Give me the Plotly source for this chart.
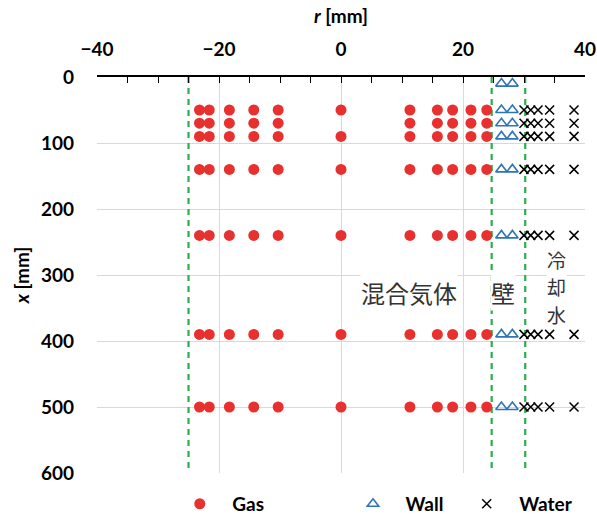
import plotly.graph_objects as go

# ---- data ----
gas_r_cols = [-23.2, -21.6, -18.3, -14.3, -10.3, 0, 11.3, 15.8, 18.3, 21.3, 23.9]
gas_x_rows = [50, 70, 90, 140, 240, 390, 500]
center_rows = [50, 90, 140, 240, 390, 500]

wall_r_cols = [26.3, 28.1]
wall_x_rows = [10, 50, 70, 90, 140, 240, 390, 500]

water_r_cols = [30.0, 31.1, 32.3, 34.2, 38.2]
water_x_rows = [50, 70, 90, 140, 240, 390, 500]

boundary_r = [-25.0, 24.7, 30.2]
x_range = [0, 600]

labels = [("混合気体", 11.1, 327, 24), ("壁", 26.6, 327, 24),
          ("冷", 35.4, 276, 19), ("却", 35.4, 318, 19), ("水", 35.4, 360, 19)]

# build point lists
gx, gy = [], []
for r in gas_r_cols:
    rows = center_rows if r == 0 else gas_x_rows
    for x in rows:
        gx.append(r); gy.append(x)
wx, wy = [], []
for r in wall_r_cols:
    for x in wall_x_rows:
        wx.append(r); wy.append(x)
hx, hy = [], []
for r in water_r_cols:
    for x in water_x_rows:
        hx.append(r); hy.append(x)

FONT = "Lato"
fig = go.Figure()

for b in boundary_r:
    fig.add_trace(go.Scatter(x=[b, b], y=x_range, mode="lines",
                             line=dict(color="#2BAE4E", width=2.2, dash="6px,5px"),
                             showlegend=False, hoverinfo="skip"))

fig.add_trace(go.Scatter(x=gx, y=gy, mode="markers", name="Gas",
                         marker=dict(symbol="circle", size=11, color="#E8312F"),
                         legend="legend"))
fig.add_trace(go.Scatter(x=wx, y=wy, mode="markers", name="Wall",
                         marker=dict(symbol="triangle-up-open", size=10,
                                     color="#2E75B6", line=dict(width=1.6, color="#2E75B6")),
                         legend="legend2"))
fig.add_trace(go.Scatter(x=hx, y=hy, mode="markers", name="Water",
                         marker=dict(symbol="x-thin-open", size=9,
                                     color="black", line=dict(width=1.5, color="black")),
                         legend="legend3"))

for txt, r, x, fs in labels:
    fig.add_annotation(x=r, y=x, text=txt, showarrow=False, xref="x", yref="y",
                       font=dict(family="Noto Sans CJK JP", size=fs, color="#333333"),
                       bgcolor="white", borderpad=0)

leg_common = dict(orientation="h", yanchor="middle", y=-0.078, xanchor="left",
                  bgcolor="rgba(0,0,0,0)", itemwidth=55,
                  font=dict(family=FONT, size=19, color="black", weight="bold"))

fig.update_layout(
    width=597, height=518,
    margin=dict(l=97, r=12, t=77, b=45, autoexpand=False),
    plot_bgcolor="white", paper_bgcolor="white",
    xaxis=dict(side="top", range=[-40, 40], dtick=20, tick0=-40,
               showgrid=True, gridcolor="#D9D9D9", gridwidth=1,
               zeroline=False, showline=True, linecolor="black", linewidth=1.5,
               ticks="inside", ticklen=6, tickcolor="black",
               minor=dict(dtick=5, ticks="inside", ticklen=6, tickcolor="black", showgrid=False),
               tickfont=dict(family=FONT, size=19, color="black", weight="bold"),
               ticklabelstandoff=12,
               title=dict(text="<i>r</i> [mm]", standoff=8,
                          font=dict(family=FONT, size=19, color="black", weight="bold"))),
    yaxis=dict(range=[600, 0], dtick=100, showgrid=True, gridcolor="#D9D9D9", gridwidth=1,
               zeroline=False, showline=False, ticks="",
               tickfont=dict(family=FONT, size=19, color="black", weight="bold"),
               ticklabelstandoff=22,
               title=dict(text="<i>x</i> [mm]", standoff=6,
                          font=dict(family=FONT, size=19, color="black", weight="bold"))),
    yaxis2=dict(range=[600, 0], overlaying="y", anchor="free", position=0.5, side="left",
                showgrid=False, zeroline=False, showline=True, linecolor="black", linewidth=1.5,
                dtick=100, ticks="inside", ticklen=6, tickcolor="black", showticklabels=False,
                minor=dict(dtick=50, ticks="inside", ticklen=6, tickcolor="black")),
    legend=dict(x=0.144, **leg_common),
    legend2=dict(x=0.499, **leg_common),
    legend3=dict(x=0.732, **leg_common),
)

fig.write_html("out.html")
